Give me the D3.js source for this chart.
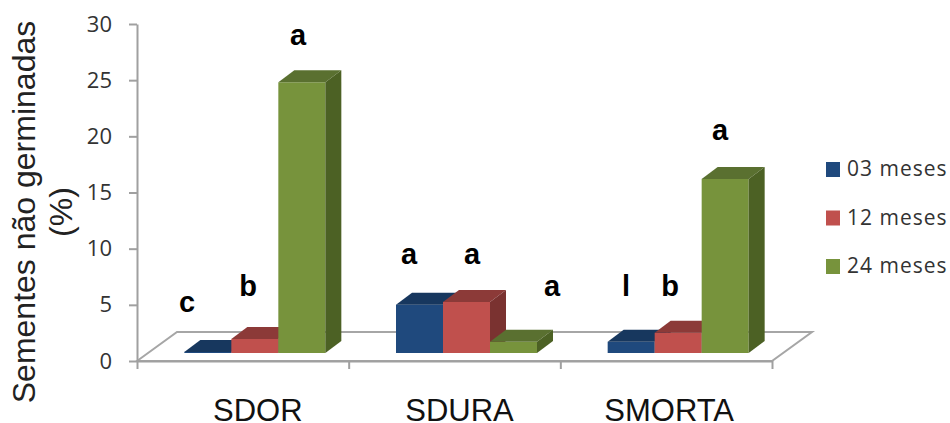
<!DOCTYPE html>
<html>
<head>
<meta charset="utf-8">
<script src="https://cdnjs.cloudflare.com/ajax/libs/d3/7.8.5/d3.min.js"></script>
<style>
  html, body { margin: 0; padding: 0; background: #fff; }
  svg { display: block; }
</style>
</head>
<body>
<div id="chart"></div>
<script>
const categories = ['SDOR', 'SDURA', 'SMORTA'];
const series = ['03 meses', '12 meses', '24 meses'];
const values03 = [0.1, 4.3, 1.0];
const values12 = [1.25, 4.55, 1.8];
const values24 = [24.1, 1.0, 15.5];
const letters03 = ['c', 'a', 'l'];
const letters12 = ['b', 'a', 'b'];
const letters24 = ['a', 'a', 'a'];
const yTicks = [0, 5, 10, 15, 20, 25, 30];

const width = 950, height = 423;
const plotLeft = 137, plotRight = 772, plotTop = 24, plotBottom = 361;

// colours per series: front, top, side
const shades = [
  ['#1f497d', '#17375e', '#17375e'],
  ['#c0504d', '#8c3a38', '#7a3230'],
  ['#77933c', '#5a7030', '#4c6124']
];

// 3d offsets
const floorDx = 40, floorDy = -29;
const barDx = 12, barDy = -8;
const depthDx = 16, depthDy = -12;

// letter positions, px
const letterX = [[187, 248, 298], [409, 472, 552], [626, 670, 720]];
const letterY = [[312, 296, 45], [264, 264, 296], [296, 296, 140]];
const labelShift = [15, 5, 3];

const svg = d3.select('#chart').append('svg')
  .attr('width', width).attr('height', height);

const y = d3.scaleLinear().domain([0, 30]).range([plotBottom, plotTop]);
const x = d3.scaleBand().domain(categories).range([plotLeft, plotRight]);
const xGroup = d3.scaleBand().domain(series).range([0, 141]);
const xEdge = d3.scaleLinear().domain([0, 3]).range([plotLeft, plotRight]);

// floor
svg.append('path')
  .attr('d', d3.line()([
    [plotLeft, plotBottom], [plotLeft + floorDx, plotBottom + floorDy],
    [plotRight + floorDx, plotBottom + floorDy], [plotRight, plotBottom]
  ]) + 'Z')
  .attr('fill', '#fff')
  .attr('stroke', '#a6a6a6')
  .attr('stroke-width', 2);

// axes
const yAxis = svg.append('g')
  .attr('transform', `translate(${plotLeft},0)`)
  .call(d3.axisLeft(y).tickValues(yTicks).tickSize(8).tickSizeOuter(0).tickPadding(17));

const xAxis = svg.append('g')
  .attr('transform', `translate(0,${plotBottom})`)
  .call(d3.axisBottom(xEdge).tickValues([0, 1, 2, 3]).tickFormat('').tickSize(8).tickSizeOuter(0));

svg.selectAll('.domain, .tick line')
  .attr('stroke', '#a0a0a0').attr('stroke-width', 2);

yAxis.selectAll('text')
  .attr('font-family', '"Open Sans", sans-serif')
  .attr('font-size', 22)
  .attr('fill', '#333');

// bars
const rows = [values03, values12, values24];
const barsBase = y(0) + barDy;
rows.forEach((vals, s) => {
  const g = svg.append('g').attr('class', 'series');
  categories.forEach((c, i) => {
    const x0 = x(c) + x.bandwidth() / 2 - 70.5 + barDx + xGroup(series[s]);
    const x1 = x0 + xGroup.bandwidth();
    const yTop = y(vals[i]) + barDy;
    g.append('rect')
      .attr('x', x0).attr('y', yTop)
      .attr('width', x1 - x0).attr('height', barsBase - yTop)
      .attr('fill', shades[s][0]);
    g.append('path')
      .attr('d', d3.line()([
        [x0, yTop], [x0 + depthDx, yTop + depthDy],
        [x1 + depthDx, yTop + depthDy], [x1, yTop]
      ]) + 'Z')
      .attr('fill', shades[s][1]);
    g.append('path')
      .attr('d', d3.line()([
        [x1, yTop], [x1 + depthDx, yTop + depthDy],
        [x1 + depthDx, barsBase + depthDy], [x1, barsBase]
      ]) + 'Z')
      .attr('fill', shades[s][2]);
  });
});

// category labels
svg.append('g').selectAll('text')
  .data(categories)
  .enter()
  .append('text')
  .attr('x', (d, i) => x(d) + x.bandwidth() / 2 + labelShift[i])
  .attr('y', 421)
  .attr('text-anchor', 'middle')
  .attr('font-family', '"Liberation Sans", Arial, sans-serif')
  .attr('font-size', 31)
  .attr('fill', '#111')
  .text(d => d);

// significance letters
[letters03, letters12, letters24].forEach((row, s) => {
  row.forEach((t, i) => {
    svg.append('text')
      .attr('x', letterX[i][s])
      .attr('y', letterY[i][s])
      .attr('text-anchor', 'middle')
      .attr('font-family', '"Liberation Sans", Arial, sans-serif')
      .attr('font-weight', 'bold')
      .attr('font-size', 29)
      .attr('fill', '#000')
      .text(t);
  });
});

// y title
const title = svg.append('text')
  .attr('transform', 'translate(0,212) rotate(-90)')
  .attr('text-anchor', 'middle')
  .attr('font-family', '"Liberation Sans", Arial, sans-serif')
  .attr('font-size', 32)
  .attr('fill', '#222');
title.append('tspan').attr('x', 0).attr('y', 35).text('Sementes não germinadas');
title.append('tspan').attr('x', 0).attr('y', 72).text('(%)');

// legend
const legend = svg.append('g').selectAll('g')
  .data(series)
  .enter()
  .append('g')
  .attr('transform', (d, i) => `translate(826,${162 + i * 48.5})`);
legend.append('rect')
  .attr('width', 14).attr('height', 15)
  .attr('fill', (d, i) => shades[i][0]);
legend.append('text')
  .attr('x', 21).attr('y', 14)
  .attr('font-family', '"Open Sans", sans-serif')
  .attr('font-size', 21)
  .attr('letter-spacing', 1)
  .attr('fill', '#333')
  .text(d => d);
</script>
</body>
</html>
